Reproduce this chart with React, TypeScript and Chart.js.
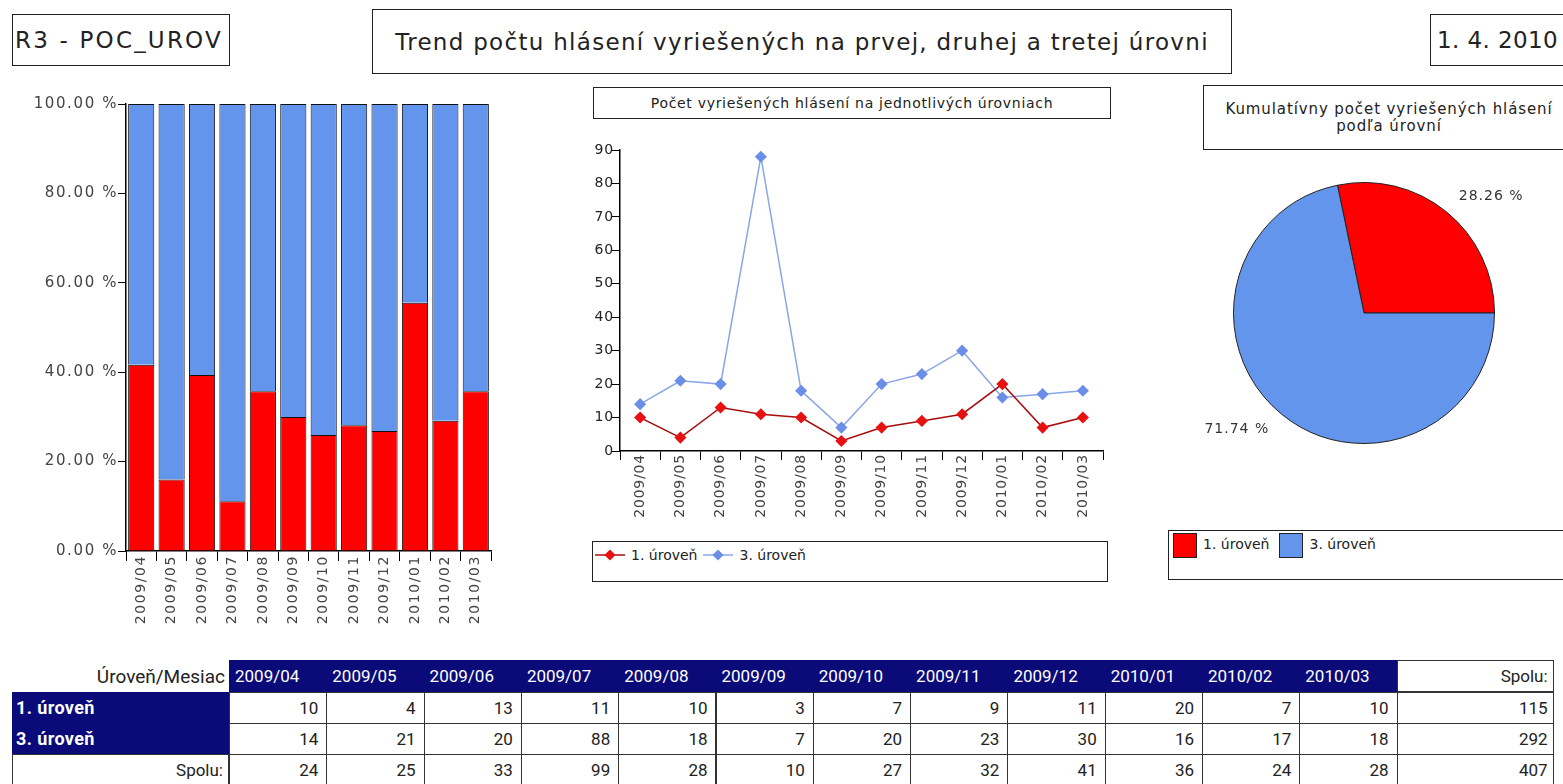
import React, { useEffect, useRef } from "react";
import { Chart, registerables } from "chart.js";

Chart.register(...registerables);

const months = ["2009/04", "2009/05", "2009/06", "2009/07", "2009/08", "2009/09", "2009/10", "2009/11", "2009/12", "2010/01", "2010/02", "2010/03"];
const level1 = [10, 4, 13, 11, 10, 3, 7, 9, 11, 20, 7, 10];
const level3 = [14, 21, 20, 88, 18, 7, 20, 23, 30, 16, 17, 18];
const seriesNames = ["1. úroveň", "3. úroveň"];
const percentTicks = [0, 20, 40, 60, 80, 100];
const countTicks = [0, 10, 20, 30, 40, 50, 60, 70, 80, 90];

const RED = "#ff0000";
const BLUE = "#6495ed";
const NAVY = "#0a0a78";
const FONT = "'DejaVu Sans', Verdana, sans-serif";
const TABLE_FONT = "Roboto, 'Liberation Sans', sans-serif";

const totals = level1.map((v, i) => v + level3[i]);
const share1 = level1.map((v, i) => (v / totals[i]) * 100);
const share3 = level3.map((v, i) => (v / totals[i]) * 100);
const sum1 = level1.reduce((a, b) => a + b, 0);
const sum3 = level3.reduce((a, b) => a + b, 0);

const letterSpacing = (px: number) => ({
  id: "letterSpacing",
  beforeDraw(chart: any) {
    (chart.ctx as any).letterSpacing = px + "px";
  },
});

function ChartBox({ left, top, width, height, config }: any) {
  const ref = useRef<HTMLCanvasElement | null>(null);
  useEffect(() => {
    if (!ref.current) return;
    const chart = new Chart(ref.current, config());
    return () => chart.destroy();
  }, []);
  return (
    <canvas
      ref={ref}
      width={width}
      height={height}
      style={{ position: "absolute", left, top, width, height }}
    />
  );
}

const barConfig = () => ({
  type: "bar",
  data: {
    labels: months,
    datasets: [
      { label: seriesNames[0], data: share1, backgroundColor: RED, borderColor: "#111", borderWidth: 1, barPercentage: 0.86, categoryPercentage: 1 },
      { label: seriesNames[1], data: share3, backgroundColor: BLUE, borderColor: "#111", borderWidth: 1, barPercentage: 0.86, categoryPercentage: 1 },
    ],
  },
  options: {
    animation: false,
    responsive: false,
    layout: { padding: { top: 14, right: 19, left: 0, bottom: 0 } },
    plugins: { legend: { display: false }, tooltip: { enabled: false } },
    scales: {
      x: {
        stacked: true,
        grid: { drawOnChartArea: false, tickLength: 10, color: "#000", offset: true },
        border: { color: "#000", width: 1.5 },
        ticks: { minRotation: 90, maxRotation: 90, autoSkip: false, padding: -6, color: "#444", font: { family: FONT, size: 14 } },
        afterFit: (s: any) => { s.height = 89; },
      },
      y: {
        stacked: true,
        min: 0,
        max: 100,
        afterBuildTicks: (s: any) => { s.ticks = percentTicks.map((v) => ({ value: v })); },
        ticks: { padding: 0, color: "#444", font: { family: FONT, size: 15 }, callback: (v: any) => Number(v).toFixed(2) + " %" },
        grid: { drawOnChartArea: false, tickLength: 8, color: "#000" },
        border: { color: "#000", width: 1.5 },
        afterFit: (s: any) => { s.width = 126; },
      },
    },
  },
  plugins: [letterSpacing(1.6)],
});

const lineConfig = () => ({
  type: "line",
  data: {
    labels: months,
    datasets: [
      { label: seriesNames[0], data: level1, borderColor: "#a80d0d", backgroundColor: "#e81010", borderWidth: 1.5, pointStyle: "rectRot", pointRadius: 5, pointBorderColor: "#e81010", pointBackgroundColor: "#e81010", tension: 0 },
      { label: seriesNames[1], data: level3, borderColor: "#8aa6e6", backgroundColor: "#6b8fe8", borderWidth: 1.5, pointStyle: "rectRot", pointRadius: 5, pointBorderColor: "#6b8fe8", pointBackgroundColor: "#6b8fe8", tension: 0 },
    ],
  },
  options: {
    animation: false,
    responsive: false,
    layout: { padding: { top: 25, right: 17, left: 0, bottom: 0 } },
    plugins: { legend: { display: false }, tooltip: { enabled: false } },
    scales: {
      x: {
        offset: true,
        grid: { drawOnChartArea: false, tickLength: 9, color: "#000", offset: true },
        border: { color: "#000", width: 1.5 },
        ticks: { minRotation: 90, maxRotation: 90, autoSkip: false, padding: -6, color: "#444", font: { family: FONT, size: 14 } },
        afterFit: (s: any) => { s.height = 89; },
      },
      y: {
        min: 0,
        max: 90,
        afterBuildTicks: (s: any) => { s.ticks = countTicks.map((v) => ({ value: v })); },
        ticks: { padding: -2, color: "#222", font: { family: FONT, size: 14 } },
        grid: { drawOnChartArea: false, tickLength: 8, color: "#000" },
        border: { color: "#000", width: 1.5 },
        afterFit: (s: any) => { s.width = 50; },
      },
    },
  },
  plugins: [letterSpacing(0.8)],
});

const pieLabels = {
  id: "pieLabels",
  afterDatasetsDraw(chart: any) {
    const ctx = chart.ctx;
    const meta = chart.getDatasetMeta(0);
    const data = chart.data.datasets[0].data as number[];
    const total = data.reduce((a, b) => a + b, 0);
    ctx.save();
    ctx.font = `14px ${FONT}`;
    (ctx as any).letterSpacing = "1px";
    ctx.fillStyle = "#333";
    ctx.textBaseline = "middle";
    meta.data.forEach((arc: any, i: number) => {
      const mid = (arc.startAngle + arc.endAngle) / 2;
      const r = arc.outerRadius * 1.15;
      const x = arc.x + Math.cos(mid) * r;
      const y = arc.y + Math.sin(mid) * r;
      ctx.textAlign = Math.cos(mid) >= 0 ? "left" : "right";
      ctx.fillText(((data[i] / total) * 100).toFixed(2) + " %", x, y);
    });
    ctx.restore();
  },
};

const pieConfig = () => ({
  type: "pie",
  data: {
    labels: seriesNames,
    datasets: [{ data: [sum1, sum3], backgroundColor: [RED, BLUE], borderColor: "#222", borderWidth: 1 }],
  },
  options: {
    animation: false,
    responsive: false,
    rotation: 90 - (sum1 / (sum1 + sum3)) * 360,
    layout: { padding: 34 },
    plugins: { legend: { display: false }, tooltip: { enabled: false } },
  },
  plugins: [pieLabels],
});

const boxStyle = (left: number, top: number, width: number, height: number): React.CSSProperties => ({
  position: "absolute",
  left,
  top,
  width,
  height,
  border: "1px solid #222",
  boxSizing: "border-box",
  background: "#fff",
});

function LineSymbol({ color, line }: { color: string; line: string }) {
  return (
    <svg width={30} height={14} style={{ verticalAlign: "middle" }}>
      <line x1={0} y1={7} x2={30} y2={7} stroke={line} strokeWidth={1.5} />
      <polygon points="15,1.5 20.5,7 15,12.5 9.5,7" fill={color} />
    </svg>
  );
}

export default function App() {
  const colLeft = 229;
  const colW = 97.3;
  const tableTop = 660;
  const headH = 32;
  const rowH = 31;
  const spoluW = 157;

  const cell = (left: number, top: number, width: number, height: number, extra: React.CSSProperties): React.CSSProperties => ({
    position: "absolute",
    left,
    top,
    width,
    height,
    boxSizing: "border-box",
    display: "flex",
    alignItems: "center",
    fontFamily: TABLE_FONT,
    fontSize: 17,
    whiteSpace: "nowrap",
    ...extra,
  });

  const rows = [
    { name: seriesNames[0], values: level1, total: sum1, head: true },
    { name: seriesNames[1], values: level3, total: sum3, head: true },
    { name: "Spolu:", values: totals, total: sum1 + sum3, head: false },
  ];

  return (
    <div style={{ position: "fixed", left: 0, top: 0, width: 1563, height: 784, overflow: "hidden", background: "#fff", fontFamily: FONT, color: "#222" }}>
      <div style={{ ...boxStyle(12, 14, 218, 52), display: "flex", alignItems: "center", paddingLeft: 2, fontSize: 23, letterSpacing: 2.2, whiteSpace: "nowrap" }}>R3 - POC_UROV</div>
      <div style={{ ...boxStyle(372, 9, 860, 65), display: "flex", alignItems: "center", justifyContent: "center", fontSize: 23, letterSpacing: 1.3, whiteSpace: "nowrap" }}>
        Trend počtu hlásení vyriešených na prvej, druhej a tretej úrovni
      </div>
      <div style={{ ...boxStyle(1430, 14, 150, 52), display: "flex", alignItems: "center", paddingLeft: 6, fontSize: 23, letterSpacing: 0.4 }}>1. 4. 2010</div>

      <ChartBox left={0} top={90} width={510} height={550} config={barConfig} />

      <div style={{ ...boxStyle(593, 87, 518, 32), display: "flex", alignItems: "center", justifyContent: "center", fontSize: 14, letterSpacing: 0.7, whiteSpace: "nowrap" }}>
        Počet vyriešených hlásení na jednotlivých úrovniach
      </div>
      <ChartBox left={570} top={125} width={550} height={415} config={lineConfig} />
      <div style={{ ...boxStyle(592, 541, 516, 41), fontSize: 14, paddingLeft: 2, paddingTop: 4 }}>
        <LineSymbol color="#e81010" line="#a80d0d" />
        <span style={{ margin: "0 6px 0 6px", verticalAlign: "middle" }}>{seriesNames[0]}</span>
        <LineSymbol color="#6b8fe8" line="#8aa6e6" />
        <span style={{ marginLeft: 6, verticalAlign: "middle" }}>{seriesNames[1]}</span>
      </div>

      <div style={{ ...boxStyle(1203, 85, 372, 65), display: "flex", flexDirection: "column", alignItems: "center", justifyContent: "center", fontSize: 15, lineHeight: "17px", letterSpacing: 0.9, textAlign: "center", whiteSpace: "nowrap" }}>
        <div>Kumulatívny počet vyriešených hlásení</div>
        <div>podľa úrovní</div>
      </div>
      <ChartBox left={1199} top={148} width={330} height={330} config={pieConfig} />
      <div style={{ ...boxStyle(1168, 530, 410, 50), fontSize: 14, paddingLeft: 4, paddingTop: 2, display: "flex", alignItems: "flex-start" }}>
        <span style={{ display: "inline-block", width: 24, height: 25, background: RED, border: "1px solid #222", boxSizing: "border-box" }} />
        <span style={{ margin: "3px 10px 0 6px" }}>{seriesNames[0]}</span>
        <span style={{ display: "inline-block", width: 24, height: 25, background: BLUE, border: "1px solid #222", boxSizing: "border-box" }} />
        <span style={{ margin: "3px 0 0 6px" }}>{seriesNames[1]}</span>
      </div>

      {/* table */}
      <div style={cell(12, tableTop, colLeft - 12, headH, { justifyContent: "flex-end", paddingRight: 4, color: "#222", fontSize: 19 })}>Úroveň/Mesiac</div>
      {months.map((m, i) => (
        <div key={m} style={cell(colLeft + i * colW, tableTop, colW + 1, headH, { background: NAVY, color: "#fff", paddingLeft: 6 })}>{m}</div>
      ))}
      <div style={cell(colLeft + 12 * colW, tableTop, spoluW, headH, { border: "1px solid #333", justifyContent: "flex-end", paddingRight: 5 })}>Spolu:</div>
      {rows.map((r, ri) => {
        const top = tableTop + headH + ri * rowH;
        return (
          <React.Fragment key={r.name}>
            <div style={cell(12, top, colLeft - 12, rowH, r.head
              ? { background: NAVY, color: "#fff", fontWeight: 700, paddingLeft: 4, fontSize: 18, letterSpacing: 0.4 }
              : { border: "1px solid #333", justifyContent: "flex-end", paddingRight: 5 })}>{r.name}</div>
            {r.values.map((v, i) => (
              <div key={i} style={cell(colLeft + i * colW, top, colW + 1, rowH + 1, { border: "1px solid #333", justifyContent: "flex-end", paddingRight: 8 })}>{v}</div>
            ))}
            <div style={cell(colLeft + 12 * colW, top, spoluW, rowH + 1, { border: "1px solid #333", justifyContent: "flex-end", paddingRight: 5 })}>{r.total}</div>
          </React.Fragment>
        );
      })}
    </div>
  );
}
